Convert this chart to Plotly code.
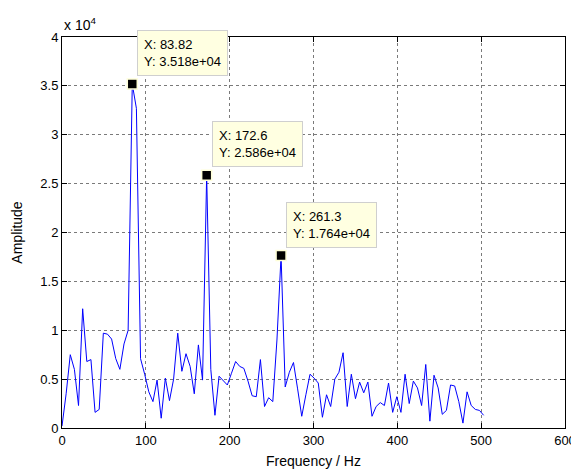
import plotly.graph_objects as go

# FFT bin spacing (Hz) and amplitude per bin
FREQ_STEP = 4.93059
amplitude = [
    200, 3500, 7500, 6000, 2300, 12200, 6800, 7000, 1600, 1900,
    9700, 9600, 9100, 7100, 6000, 8600, 10000, 35180, 32700, 7100,
    5500, 3700, 2700, 4900, 1000, 5100, 2800, 5000, 9700, 5800,
    7600, 6300, 3500, 8500, 4900, 25860, 6000, 1300, 5300, 4900,
    4400, 5600, 6800, 6300, 6100, 4800, 3300, 3200, 7000, 2200,
    3100, 2700, 9000, 17640, 4200, 5700, 6700, 4000, 1200, 3400,
    5500, 5100, 4600, 1100, 3400, 2200, 5000, 5700, 7700, 2200,
    5500, 3000, 4700, 3600, 4700, 1200, 2200, 2600, 2300, 4600,
    1600, 3200, 1600, 5500, 2500, 4800, 4100, 2300, 6500, 700,
    5400, 4100, 1400, 1800, 4400, 4300, 2700, 500, 3700, 2300,
    1900, 1800, 1300,
]
freqs = [round(k * FREQ_STEP, 4) for k in range(len(amplitude))]

tip_bins = [17, 35, 53]
tip_x = [freqs[k] for k in tip_bins]
tip_y = [amplitude[k] for k in tip_bins]

x_ticks = [0, 100, 200, 300, 400, 500, 600]
y_tickvals = [0, 5000, 10000, 15000, 20000, 25000, 30000, 35000, 40000]
y_ticktext = ["0", "0.5", "1", "1.5", "2", "2.5", "3", "3.5", "4"]

FONT = "Liberation Sans, Arial, sans-serif"

fig = go.Figure()
fig.add_trace(go.Scatter(
    x=freqs, y=amplitude, mode="lines",
    line=dict(color="#0000ff", width=1),
    showlegend=False, hoverinfo="skip",
))
fig.add_trace(go.Scatter(
    x=tip_x, y=tip_y, mode="markers",
    marker=dict(symbol="square", size=10, color="black",
                line=dict(color="#ffffd8", width=1.5)),
    showlegend=False, hoverinfo="skip", cliponaxis=False,
))

for x, y in zip(tip_x, tip_y):
    fig.add_annotation(
        x=x, y=y, xref="x", yref="y",
        text=f"X: {x:.4g}<br>Y: {y:.3e}",
        showarrow=False, xanchor="left", yanchor="bottom",
        xshift=5, yshift=8, align="left",
        bgcolor="#ffffe1", bordercolor="#cfcfcf", borderwidth=1, borderpad=6,
        font=dict(family=FONT, size=13, color="black"),
    )

fig.add_annotation(
    x=0, y=1, xref="paper", yref="paper",
    text="x 10<sup>4</sup>", showarrow=False,
    xanchor="left", yanchor="bottom", yshift=2,
    font=dict(family=FONT, size=14, color="black"),
)

axis_common = dict(
    showline=True, linecolor="black", linewidth=1, mirror="ticks",
    ticks="inside", ticklen=5, tickcolor="black", tickwidth=1,
    showgrid=True, gridcolor="#7a7a7a", griddash="dot", gridwidth=1,
    zeroline=False, automargin=False,
    tickfont=dict(family=FONT, size=13, color="black"),
)

fig.update_xaxes(
    range=[0, 600], tickvals=x_ticks,
    title=dict(text="Frequency / Hz", standoff=9,
               font=dict(family=FONT, size=14, color="black")),
    **axis_common,
)
fig.update_yaxes(
    range=[0, 40000], tickvals=y_tickvals, ticktext=y_ticktext,
    title=dict(text="Amplitude", standoff=14,
               font=dict(family=FONT, size=14, color="black")),
    **axis_common,
)

# The page body has an 8px default margin, so the figure is sized to fit.
fig.update_layout(
    width=571, height=465,
    margin=dict(l=54, r=14, t=29, b=45, autoexpand=False),
    paper_bgcolor="white", plot_bgcolor="white",
    font=dict(family=FONT, size=13, color="black"),
)

fig.write_html("out.html")
